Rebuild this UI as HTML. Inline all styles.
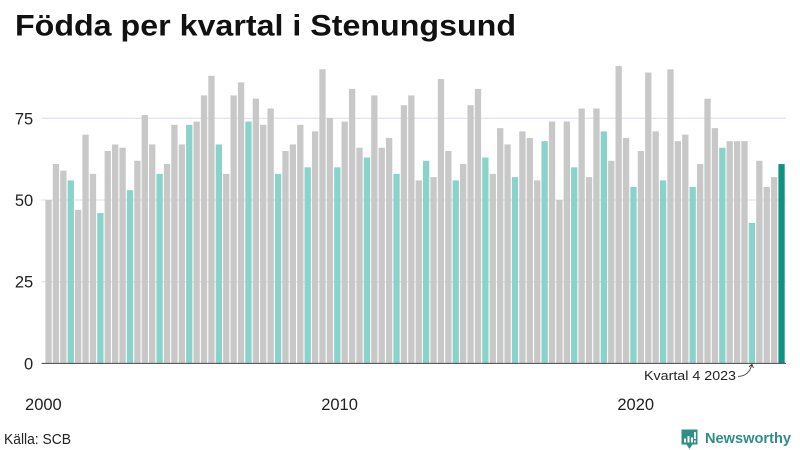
<!DOCTYPE html>
<html lang="sv">
<head>
<meta charset="utf-8">
<title>Födda per kvartal i Stenungsund</title>
<style>
  html, body { margin: 0; padding: 0; background: #fff; }
  body { width: 800px; height: 450px; overflow: hidden; }
  svg { display: block; font-family: "Liberation Sans", "Noto Sans CJK SC", sans-serif; }
</style>
</head>
<body>
<svg id="chart" width="800" height="450" viewBox="0 0 800 450" xmlns="http://www.w3.org/2000/svg">
  <rect x="0" y="0" width="800" height="450" fill="#ffffff"/>
  <text x="15" y="35.7" font-size="30" font-weight="700" fill="#111111" textLength="501" lengthAdjust="spacingAndGlyphs">Födda per kvartal i Stenungsund</text>
  <g id="grid"></g>
  <g id="bars"></g>
  <g id="y-axis"></g>
  <g id="x-axis"></g>
  <g>
    <text id="anno-text" x="736" y="380" font-size="13" text-anchor="end" fill="#222222" textLength="92" lengthAdjust="spacingAndGlyphs">Kvartal 4 2023</text>
    <path id="anno-arrow" fill="none" stroke="#333333" stroke-width="0.8"></path>
    <path id="anno-head" fill="none" stroke="#333333" stroke-width="0.9"></path>
  </g>
  <text x="4" y="444" font-size="14.5" fill="#222222" textLength="67" lengthAdjust="spacingAndGlyphs">Källa: SCB</text>
  <g>
    <path d="M681.5 429.5 H697.5 V444.5 H692.5 L689.5 449 L686.5 444.5 H681.5 Z" fill="#2f8f86"/>
    <rect x="684" y="438.5" width="2" height="4" fill="#ffffff"/>
    <rect x="687.5" y="436" width="2" height="6.5" fill="#ffffff"/>
    <rect x="691" y="437.5" width="2" height="5" fill="#ffffff"/>
    <rect x="694" y="432" width="1.8" height="7" fill="#ffffff"/>
    <rect x="694" y="440.5" width="1.8" height="2" fill="#ffffff"/>
    <text x="705" y="443" font-size="15" font-weight="700" fill="#2f8f86" textLength="86" lengthAdjust="spacingAndGlyphs">Newsworthy</text>
  </g>
</svg>
<script>
const categories = [
  "2000Q1","2000Q2","2000Q3","2000Q4","2001Q1","2001Q2","2001Q3","2001Q4","2002Q1","2002Q2",
  "2002Q3","2002Q4","2003Q1","2003Q2","2003Q3","2003Q4","2004Q1","2004Q2","2004Q3","2004Q4",
  "2005Q1","2005Q2","2005Q3","2005Q4","2006Q1","2006Q2","2006Q3","2006Q4","2007Q1","2007Q2",
  "2007Q3","2007Q4","2008Q1","2008Q2","2008Q3","2008Q4","2009Q1","2009Q2","2009Q3","2009Q4",
  "2010Q1","2010Q2","2010Q3","2010Q4","2011Q1","2011Q2","2011Q3","2011Q4","2012Q1","2012Q2",
  "2012Q3","2012Q4","2013Q1","2013Q2","2013Q3","2013Q4","2014Q1","2014Q2","2014Q3","2014Q4",
  "2015Q1","2015Q2","2015Q3","2015Q4","2016Q1","2016Q2","2016Q3","2016Q4","2017Q1","2017Q2",
  "2017Q3","2017Q4","2018Q1","2018Q2","2018Q3","2018Q4","2019Q1","2019Q2","2019Q3","2019Q4",
  "2020Q1","2020Q2","2020Q3","2020Q4","2021Q1","2021Q2","2021Q3","2021Q4","2022Q1","2022Q2",
  "2022Q3","2022Q4","2023Q1","2023Q2","2023Q3","2023Q4","2024Q1","2024Q2","2024Q3","2024Q4"
];
const births = [
  50,61,59,56,47,70,58,46,65,67,
  66,53,62,76,67,58,61,73,67,73,
  74,82,88,67,58,82,86,74,81,73,
  78,58,65,67,73,60,71,90,75,60,
  74,84,66,63,82,66,69,58,79,82,
  56,62,57,87,65,56,61,79,84,63,
  58,72,67,57,71,69,56,68,74,50,
  74,60,78,57,78,71,62,91,69,54,
  65,89,71,56,90,68,70,54,61,81,
  72,66,68,68,68,43,62,54,57,61
];
const yTickValues = [0, 25, 50, 75];
const xTickCategories = ["2000Q1", "2010Q1", "2020Q1"];
const xTickLabels = ["2000", "2010", "2020"];
const annotatedCategory = "2023Q4";
const latestCategory = "2024Q4";

const SVG_NS = "http://www.w3.org/2000/svg";
function xScale(i) { return 45.4 + i * 7.404; }
function yScale(v) { return 363.4 - v * 3.268; }
const barWidth = 6.3;
function barColor(cat) {
  if (cat === latestCategory) return "#11917f";
  if (cat.slice(-2) === "Q4") return "#8ad3ca";
  return "#c8c8c8";
}
function make(tag, attrs, parent) {
  const el = document.createElementNS(SVG_NS, tag);
  for (const k in attrs) el.setAttribute(k, attrs[k]);
  parent.appendChild(el);
  return el;
}

const gridG = document.getElementById("grid");
const barsG = document.getElementById("bars");
const yG = document.getElementById("y-axis");
const xG = document.getElementById("x-axis");

yTickValues.forEach(function (t) {
  if (t !== 0) {
    const line = make("line", { x1: 41.5, x2: 786, y1: yScale(t), y2: yScale(t), stroke: "#dcdce8", "stroke-width": 1 }, gridG);
    
    
  }
  const label = make("text", { x: 33.2, y: yScale(t) + 6, "text-anchor": "end", "font-size": 16.5, fill: "#222222" }, yG);
  
  
  label.textContent = String(t);
});

births.forEach(function (v, i) {
  const r = make("rect", { x: xScale(i), y: yScale(v), width: barWidth, height: yScale(0) - yScale(v), fill: barColor(categories[i]) }, barsG);
  
  
});

const axisLine = make("line", { x1: 41.5, x2: 786, y1: yScale(0), y2: yScale(0), stroke: "#444444", "stroke-width": 1 }, yG);



xTickCategories.forEach(function (c, k) {
  const i = categories.indexOf(c);
  const tick = make("text", { x: xScale(i) - 2, y: 410, "text-anchor": "middle", "font-size": 16.5, fill: "#222222" }, xG);
  
  
  tick.textContent = xTickLabels[k];
});

const ai = categories.indexOf(annotatedCategory);
const ax = xScale(ai) + barWidth / 2;
const ay = yScale(0) + 1;
document.getElementById("anno-arrow").setAttribute("d",
  "M" + (ax - 14) + " " + (ay + 12) + " C" + (ax - 7) + " " + (ay + 12) + " " + (ax - 2) + " " + (ay + 8) + " " + ax + " " + ay);
document.getElementById("anno-head").setAttribute("d",
  "M" + (ax - 3) + " " + (ay + 2.5) + " L" + ax + " " + ay + " L" + (ax + 1.5) + " " + (ay + 3.5));
</script>
</body>
</html>
